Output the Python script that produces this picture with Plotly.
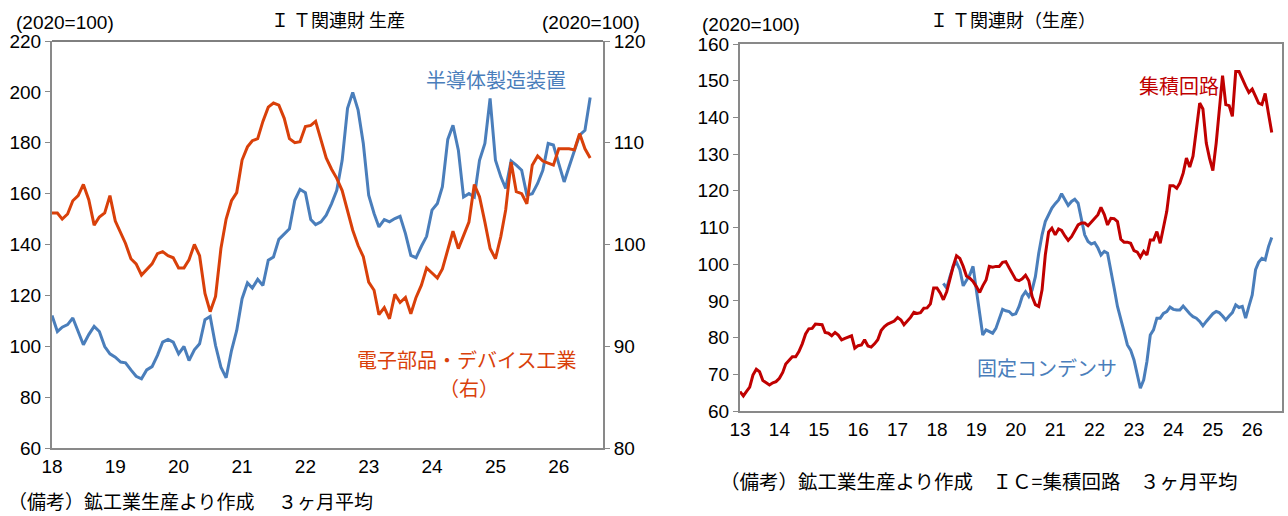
import pandas as pd
import plotly.graph_objects as go

W, H = 1288, 516

# ---- left chart : IT goods production (monthly, from 2018/01) ----
semi_equip = [112.1, 105.8, 107.5, 108.5, 111.1, 105.8, 100.6, 104.6, 107.8, 105.8,
              99.9, 97.0, 95.7, 93.8, 93.5, 90.7, 88.2, 87.2, 90.7, 92.0,
              96.4, 101.6, 102.7, 101.6, 97.0, 99.9, 94.4, 98.6, 101.0, 110.4,
              111.7, 100.3, 91.8, 87.6, 98.3, 106.2, 118.7, 124.9, 122.9, 126.3,
              123.9, 133.8, 135.1, 142.0, 144.3, 146.2, 157.4, 161.7, 160.4, 149.8,
              147.8, 148.9, 151.5, 156.1, 161.3, 173.1, 193.5, 199.8, 192.8, 179.7,
              159.4, 152.2, 146.9, 149.8, 148.9, 150.2, 151.1, 144.3, 135.7, 134.8,
              139.3, 143.2, 153.5, 156.1, 162.7, 181.3, 186.9, 177.1, 158.7, 160.0,
              158.7, 173.1, 179.7, 197.4, 173.1, 166.6, 162.0, 172.8, 171.2, 169.2,
              159.4, 160.0, 164.0, 169.2, 179.7, 179.1, 171.8, 164.6, 170.5, 177.1,
              183.0, 184.9, 197.8]

elec_parts = [103.1, 103.1, 102.5, 103.0, 104.3, 104.8, 105.9, 104.4, 101.9, 102.7,
              103.1, 104.8, 102.3, 101.1, 100.1, 98.6, 98.1, 97.0, 97.5, 98.1,
              99.1, 99.3, 98.9, 98.7, 97.7, 97.7, 98.5, 100.0, 98.9, 95.2,
              93.4, 94.9, 99.6, 102.5, 104.3, 105.1, 108.3, 109.6, 110.2, 110.4,
              112.1, 113.5, 113.9, 113.7, 112.4, 110.4, 110.0, 110.1, 111.6, 111.7,
              112.1, 110.3, 108.5, 107.4, 106.5, 105.3, 103.4, 101.4, 99.9, 98.8,
              96.3, 95.5, 93.1, 93.8, 92.7, 95.1, 94.3, 94.8, 93.2, 94.8,
              96.0, 97.7, 97.2, 96.7, 97.6, 99.6, 101.3, 99.6, 100.8, 102.2,
              105.9, 104.7, 102.2, 99.6, 98.6, 100.8, 103.4, 108.1, 105.2, 105.0,
              104.0, 107.8, 108.7, 108.2, 108.0, 107.8, 109.4, 109.4, 109.4, 109.3,
              110.9, 109.4, 108.5]

left_years = ["18", "19", "20", "21", "22", "23", "24", "25", "26"]

# ---- right chart : IC (from 2013/01) and fixed capacitors (from 2018/03) ----
ic = [65.3, 64.1, 65.3, 66.5, 69.8, 71.4, 70.7, 68.3, 67.7, 67.1,
      67.7, 68.0, 68.9, 70.5, 72.8, 73.9, 74.8, 74.8, 76.2, 78.3,
      81.0, 82.4, 82.5, 83.7, 83.5, 83.5, 81.4, 81.2, 80.5, 81.4,
      80.7, 79.4, 79.8, 80.1, 80.5, 77.1, 77.8, 78.0, 79.4, 77.7,
      77.4, 78.3, 79.4, 81.9, 83.0, 83.7, 84.2, 84.5, 85.5, 84.8,
      83.5, 84.4, 85.5, 86.9, 86.6, 86.8, 88.0, 88.1, 89.2, 93.5,
      93.5, 92.1, 90.3, 92.5, 96.2, 99.5, 102.3, 101.6, 99.4, 96.8,
      96.2, 95.3, 93.9, 92.3, 94.1, 95.7, 99.4, 99.2, 99.4, 99.4,
      100.5, 100.7, 99.0, 97.5, 95.8, 95.5, 96.0, 97.0, 95.5, 91.2,
      89.0, 88.5, 93.0, 102.5, 108.8, 109.8, 108.0, 109.6, 109.2, 107.7,
      106.5, 107.5, 109.2, 110.7, 111.2, 111.2, 110.5, 111.4, 112.5, 113.5,
      115.5, 113.5, 110.7, 112.5, 112.4, 111.6, 106.8, 106.0, 106.0, 105.7,
      103.7, 103.3, 101.9, 103.5, 102.5, 106.6, 106.6, 108.9, 105.7, 110.3,
      114.4, 121.4, 121.4, 120.7, 122.1, 124.8, 128.9, 126.5, 129.4, 136.6,
      143.9, 142.3, 133.0, 128.9, 125.5, 133.0, 142.1, 151.4, 143.5, 143.2,
      140.3, 152.5, 152.5, 150.3, 148.5, 146.8, 147.7, 145.7, 143.9, 143.5,
      146.5, 141.0, 135.9]

capacitor = [94.8, 93.5, 96.6, 99.5, 100.5, 98.5, 94.1, 95.7, 97.1, 99.4,
             93.0, 86.6, 80.7, 82.1, 81.6, 81.2, 82.5, 85.3, 87.7, 87.3,
             87.1, 86.2, 86.5, 88.5, 91.2, 92.5, 91.2, 93.0, 96.6, 103.0,
             108.0, 111.6, 113.5, 115.3, 116.5, 117.5, 119.2, 117.5, 116.0, 117.1,
             117.7, 116.6, 112.1, 108.0, 106.2, 105.5, 105.9, 104.4, 102.5, 103.5,
             103.0, 98.5, 93.5, 88.5, 85.3, 81.6, 78.0, 76.6, 73.9, 69.8,
             66.2, 68.5, 73.5, 80.7, 82.1, 85.3, 85.3, 86.6, 87.1, 88.3,
             87.7, 87.5, 87.5, 88.6, 87.5, 86.5, 85.7, 85.3, 84.4, 83.2,
             84.4, 85.5, 86.5, 87.1, 86.8, 85.9, 84.8, 85.9, 86.8, 88.9,
             88.2, 88.5, 85.3, 88.5, 91.6, 98.5, 100.5, 101.6, 101.2, 104.8,
             107.3]

right_years = ["13", "14", "15", "16", "17", "18", "19", "20", "21", "22", "23", "24", "25", "26"]

BLUE = "#4A7EBB"
ORANGE = "#D9400A"
RED = "#C00000"
GRID = "#898989"
NUM_FONT = "Liberation Sans Narrow, Arial Narrow, sans-serif"
JP_FONT = "Noto Sans CJK JP, sans-serif"


def px(x):
    return x / W


def py(y):
    return 1 - y / H


d_left = pd.date_range("2018-01-01", periods=len(semi_equip), freq="MS")
d_elec = pd.date_range("2018-01-01", periods=len(elec_parts), freq="MS")
d_ic = pd.date_range("2013-01-01", periods=len(ic), freq="MS")
d_cap = pd.date_range("2018-03-01", periods=len(capacitor), freq="MS")

fig = go.Figure()
fig.add_trace(go.Scatter(x=d_left, y=semi_equip, mode="lines", xaxis="x", yaxis="y",
                         line=dict(color=BLUE, width=3)))
fig.add_trace(go.Scatter(x=d_elec, y=elec_parts, mode="lines", xaxis="x", yaxis="y2",
                         line=dict(color=ORANGE, width=3)))
fig.add_trace(go.Scatter(x=d_cap, y=capacitor, mode="lines", xaxis="x2", yaxis="y3",
                         line=dict(color=BLUE, width=3)))
fig.add_trace(go.Scatter(x=d_ic, y=ic, mode="lines", xaxis="x2", yaxis="y3",
                         line=dict(color=RED, width=3)))

tick_font = dict(family=NUM_FONT, size=19, color="#000")
yax = dict(showgrid=False, zeroline=False, showline=True, linecolor=GRID, linewidth=2,
           ticks="outside", ticklen=5, tickcolor=GRID, tickwidth=1, tickfont=tick_font,
           automargin=False)
xax = dict(type="date", showgrid=False, zeroline=False, showline=True, linecolor=GRID,
           linewidth=2, ticks="", tickfont=tick_font, automargin=False)

fig.update_layout(
    width=W, height=H, margin=dict(l=0, r=0, t=0, b=0),
    paper_bgcolor="white", plot_bgcolor="white", showlegend=False,
    xaxis=dict(xax, domain=[px(52), px(603)], anchor="y",
               range=["2018-01-01", "2026-09-13"],
               tickvals=[f"20{y}-01-01" for y in left_years], ticktext=left_years),
    yaxis=dict(yax, domain=[py(448), py(41)], anchor="x", range=[60, 220], dtick=20),
    yaxis2=dict(yax, overlaying="y", side="right", anchor="x", range=[80, 120], dtick=10),
    xaxis2=dict(xax, domain=[px(740), px(1282)], anchor="y3",
                range=["2013-01-01", "2026-10-04"], mirror=True,
                tickvals=[f"20{y}-01-01" for y in right_years], ticktext=right_years),
    yaxis3=dict(yax, domain=[py(411), py(44)], anchor="x2", range=[60, 160], dtick=10,
                mirror=True),
)

# black top border of the left plot
fig.add_shape(type="line", xref="paper", yref="paper", x0=px(52), x1=px(603),
              y0=py(41), y1=py(41), line=dict(color="#000", width=1))


def txt(x, y, s, color="#000", size=17, font=JP_FONT, xanchor="center"):
    fig.add_annotation(x=px(x), y=py(y), xref="paper", yref="paper", text=s,
                       showarrow=False, xanchor=xanchor, yanchor="middle",
                       font=dict(family=font, size=size, color=color))


# left chart texts
txt(338, 19, "Ｉ Ｔ関連財 生産", size=18)
txt(14, 23, "(2020=100)", size=19, font=NUM_FONT, xanchor="left")
txt(540, 23, "(2020=100)", size=19, font=NUM_FONT, xanchor="left")
txt(424, 79, "半導体製造装置", color=BLUE, size=20, xanchor="left")
txt(355, 359, "電子部品・デバイス工業", color=ORANGE, size=20, xanchor="left")
txt(469, 387, "（右）", color=ORANGE, size=20)
txt(6, 500, "（備考）鉱工業生産より作成　 ３ヶ月平均", size=19, xanchor="left")

# right chart texts
txt(1013, 19, "Ｉ Ｔ関連財（生産）", size=18)
txt(700, 25, "(2020=100)", size=19, font=NUM_FONT, xanchor="left")
txt(1137, 86, "集積回路", color=RED, size=20, xanchor="left")
txt(975, 367, "固定コンデンサ", color=BLUE, size=20, xanchor="left")
txt(718, 480, "（備考）鉱工業生産より作成　ＩＣ=集積回路　３ヶ月平均", size=19.5, xanchor="left")

# the page keeps the browser's default body margin otherwise
fig.write_html("out.html", config={"displayModeBar": False},
               post_script="document.body.style.margin='0';")
